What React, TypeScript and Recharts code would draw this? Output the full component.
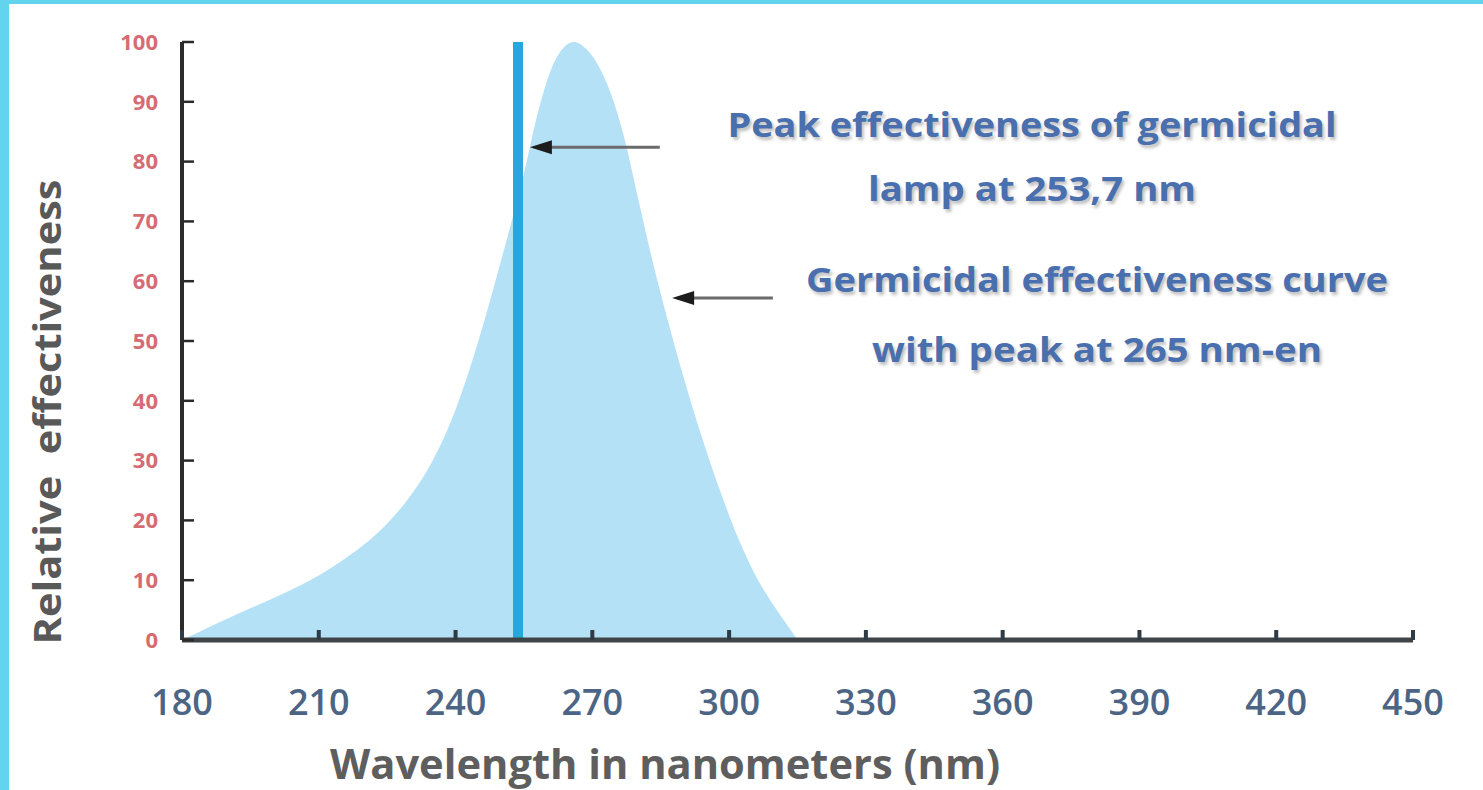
import { AreaChart, Area, XAxis, YAxis, ReferenceLine } from 'recharts';

// curve (nm -> relative effectiveness %)
const wavelengths = [180, 185, 190, 195, 200, 205, 210, 215, 220, 225, 230, 235, 240, 245, 250, 255, 258, 261, 264, 266, 268, 271, 274, 277, 280, 283, 286, 290, 294, 298, 302, 306, 310, 313, 315];
const effectiveness = [0, 1.8, 3.6, 5.3, 7, 8.8, 10.8, 13.2, 16, 19.5, 24, 30, 38.5, 50, 63.5, 78, 88, 95.5, 99.3, 100, 99.3, 96.5, 91.5, 84, 74, 64, 55, 44, 34, 25, 17, 10.5, 5.5, 2.2, 0];

const xTicks = [180, 210, 240, 270, 300, 330, 360, 390, 420, 450];
const yTicks = [0, 10, 20, 30, 40, 50, 60, 70, 80, 90, 100];

const lampWavelength = 253.7;

// arrows: [tail, tip] in data units
const lampArrow = [{ x: 284.8, y: 82.4 }, { x: 256.3, y: 82.4 }];
const curveArrow = [{ x: 309.6, y: 57.2 }, { x: 287.5, y: 57.2 }];

const data = wavelengths.map((nm, i) => ({ nm, value: effectiveness[i] }));

const XTick = (props: any) => {
  const { x, y, payload } = props;
  return (
    <g>
      <rect x={x - 2} y={y - 10} width={4} height={10} fill="#2f3b45" />
      <text
        x={x}
        y={y + 75}
        textAnchor="middle"
        fill="#4d6585"
        fontSize={36}
        fontWeight={600}
        fontFamily="'Open Sans', sans-serif"
      >
        {payload.value}
      </text>
    </g>
  );
};

const YTick = (props: any) => {
  const { x, y, payload } = props;
  return (
    <g>
      <line x1={x} x2={x + 12} y1={y} y2={y} stroke="#2b2b2b" strokeWidth={2.5} />
      <text
        x={x - 24}
        y={y}
        dy="0.35em"
        textAnchor="end"
        fill="#d66b74"
        fontSize={22}
        fontWeight={700}
        fontFamily="'Open Sans', sans-serif"
      >
        {payload.value}
      </text>
    </g>
  );
};

const Arrow = (props: any) => {
  const { x1, y1, x2, y2 } = props;
  const dir = x2 < x1 ? 1 : -1;
  return (
    <g>
      <line x1={x1} y1={y1} x2={x2 + dir * 14} y2={y2} stroke="#6b6b6b" strokeWidth={3} />
      <polygon
        points={`${x2},${y2} ${x2 + dir * 22},${y2 - 7} ${x2 + dir * 22},${y2 + 7}`}
        fill="#1c1c1c"
      />
    </g>
  );
};

const annoStyle = {
  fill: '#4a6fae',
  fontWeight: 700,
  fontFamily: "'Open Sans', sans-serif",
  textShadow: '2px 3px 3px rgba(0,0,0,0.25)',
};

export default function App() {
  return (
    <div
      style={{
        position: 'absolute',
        left: 0,
        top: 0,
        width: 1483,
        height: 790,
        background: '#ffffff',
        borderLeft: '9px solid #62d4ee',
        borderTop: '4px solid #62d4ee',
        boxSizing: 'border-box',
        overflow: 'hidden',
      }}
    >
      <div style={{ position: 'absolute', left: -9, top: -4 }}>
        <AreaChart width={1483} height={790} data={data} margin={{ top: 42, right: 70, bottom: 0, left: 0 }}>
          <XAxis
            dataKey="nm"
            type="number"
            domain={[180, 450]}
            ticks={xTicks}
            height={150}
            tickSize={0}
            tickMargin={0}
            tickLine={false}
            tick={<XTick />}
            axisLine={{ stroke: '#3f4448', strokeWidth: 5 }}
            interval={0}
          />
          <YAxis
            type="number"
            domain={[0, 100]}
            ticks={yTicks}
            width={182}
            tickSize={0}
            tickMargin={0}
            tickLine={false}
            tick={<YTick />}
            axisLine={{ stroke: '#2b2b2b', strokeWidth: 4 }}
            interval={0}
          />
          <Area
            type="monotone"
            dataKey="value"
            stroke="none"
            fill="#b5e1f6"
            fillOpacity={1}
            isAnimationActive={false}
          />
          <ReferenceLine x={lampWavelength} stroke="#27a7dc" strokeWidth={10} />
          <ReferenceLine segment={lampArrow} shape={<Arrow />} />
          <ReferenceLine segment={curveArrow} shape={<Arrow />} />
        </AreaChart>
      </div>
      <svg
        width={1483}
        height={790}
        style={{ position: 'absolute', left: -9, top: -4, pointerEvents: 'none' }}
      >
        <text x={1032} y={137} textAnchor="middle" fontSize={34} textLength={609} lengthAdjust="spacingAndGlyphs" style={annoStyle}>
          Peak effectiveness of germicidal
        </text>
        <text x={1032} y={201} textAnchor="middle" fontSize={34} textLength={328} lengthAdjust="spacingAndGlyphs" style={annoStyle}>
          lamp at 253,7 nm
        </text>
        <text x={1097} y={292} textAnchor="middle" fontSize={34} textLength={582} lengthAdjust="spacingAndGlyphs" style={annoStyle}>
          Germicidal effectiveness curve
        </text>
        <text x={1097} y={362} textAnchor="middle" fontSize={34} textLength={450} lengthAdjust="spacingAndGlyphs" style={annoStyle}>
          with peak at 265 nm-en
        </text>
        <text
          x={61}
          y={412}
          transform="rotate(-90 61 412)"
          textAnchor="middle"
          fill="#595959"
          fontSize={37}
          fontWeight={700}
          fontFamily="'Open Sans', sans-serif"
          textLength={465}
          lengthAdjust="spacingAndGlyphs"
          style={{ whiteSpace: 'pre' }}
        >
          Relative  effectiveness
        </text>
        <text
          x={665}
          y={779}
          textAnchor="middle"
          fill="#5e5e5e"
          fontSize={41}
          fontWeight={700}
          fontFamily="'Open Sans', sans-serif"
          textLength={670}
          lengthAdjust="spacingAndGlyphs"
        >
          Wavelength in nanometers (nm)
        </text>
      </svg>
    </div>
  );
}
